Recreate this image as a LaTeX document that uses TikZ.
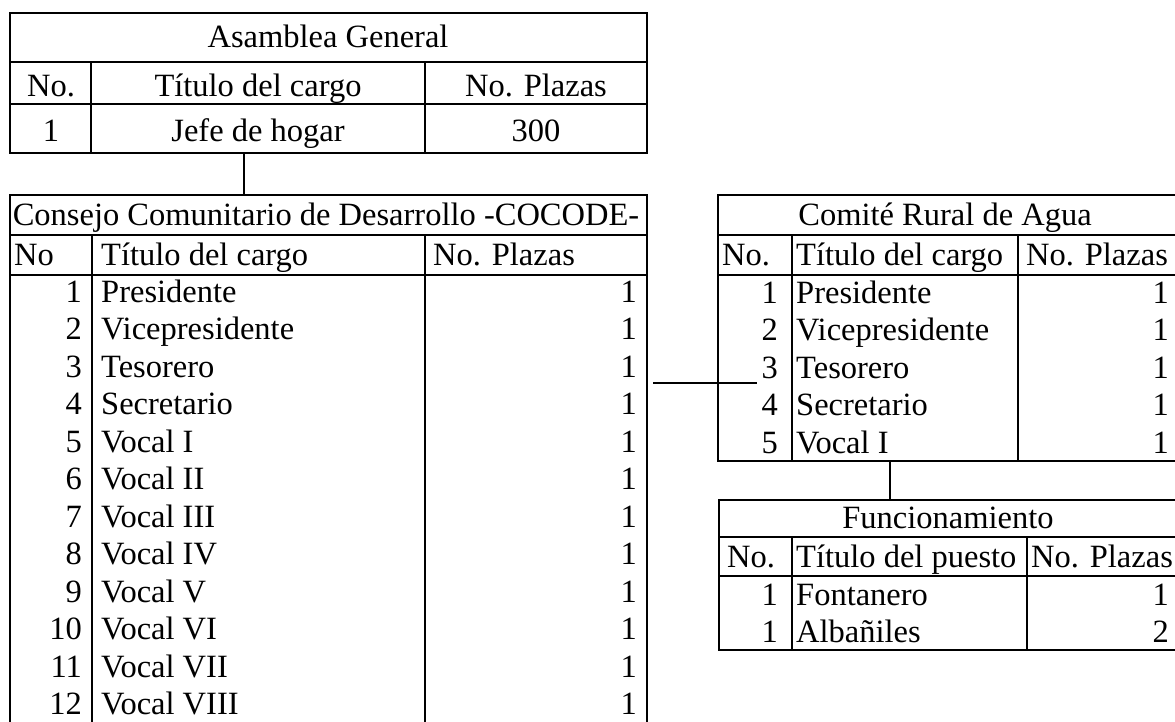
\documentclass[tikz,border=0pt]{standalone}
\usepackage{fontspec}
\setmainfont{Liberation Serif}

\begin{document}
\begin{tikzpicture}[x=1pt, y=-1pt,
  every node/.style={inner sep=0pt, font=\fontsize{32.5}{38}\selectfont},
  rule/.style={line width=1.6pt},
  conn/.style={line width=1.4pt},
  lft/.style={anchor=base west},
  rgt/.style={anchor=base east},
  mid/.style={anchor=base}]
  \useasboundingbox (0,0) rectangle (1175,721);

  % Asamblea General
  \draw[rule] (10,13) rectangle (647,153);
  \draw[rule] (10,62) -- (647,62);
  \draw[rule] (10,104) -- (647,104);
  \draw[rule] (91,62) -- (91,153);
  \draw[rule] (425,62) -- (425,153);
  \node[mid] (ag-title) at (328,47) {Asamblea General};
  \node[mid] (ag-no) at (51,96) {No.};
  \node[mid] (ag-cargo) at (258,96) {Título del cargo};
  \node[mid] (ag-plazas) at (536,96) {No. Plazas};
  \node[mid] (ag-n1) at (51,141) {1};
  \node[mid] (ag-c1) at (258,141) {Jefe de hogar};
  \node[mid] (ag-p1) at (536,141) {300};

  % Consejo Comunitario de Desarrollo
  \draw[rule] (10,740) -- (10,195) -- (647,195) -- (647,740);
  \draw[rule] (10,235) -- (647,235);
  \draw[rule] (10,275) -- (647,275);
  \draw[rule] (92,235) -- (92,740);
  \draw[rule] (425,235) -- (425,740);
  \node[mid] (cc-title) at (326,225) {Consejo Comunitario de Desarrollo -COCODE-};
  \node[lft] (cc-no) at (14,265) {No};
  \node[lft] (cc-cargo) at (101,265) {Título del cargo};
  \node[lft] (cc-plazas) at (433,265) {No. Plazas};
  \foreach \i/\cargo in {1/Presidente, 2/Vicepresidente, 3/Tesorero, 4/Secretario,
      5/Vocal I, 6/Vocal II, 7/Vocal III, 8/Vocal IV, 9/Vocal V, 10/Vocal VI,
      11/Vocal VII, 12/Vocal VIII} {
    \node[rgt] (cc-n\i) at (82,{302+37.5*(\i-1)}) {\i};
    \node[lft] (cc-c\i) at (101,{302+37.5*(\i-1)}) {\cargo};
    \node[rgt] (cc-p\i) at (637,{302+37.5*(\i-1)}) {1};
  }

  % Comité Rural de Agua
  \draw[rule] (718,195) rectangle (1177,461);
  \draw[rule] (718,235) -- (1177,235);
  \draw[rule] (718,275) -- (1177,275);
  \draw[rule] (792,235) -- (792,461);
  \draw[rule] (1018,235) -- (1018,461);
  \node[mid] (cr-title) at (945,225) {Comité Rural de Agua};
  \node[lft] (cr-no) at (722,265) {No.};
  \node[lft] (cr-cargo) at (796,265) {Título del cargo};
  \node[lft] (cr-plazas) at (1026,265) {No. Plazas};
  \foreach \i/\cargo in {1/Presidente, 2/Vicepresidente, 3/Tesorero, 4/Secretario,
      5/Vocal I} {
    \node[rgt] (cr-n\i) at (778,{303+37.5*(\i-1)}) {\i};
    \node[lft] (cr-c\i) at (796,{303+37.5*(\i-1)}) {\cargo};
    \node[rgt] (cr-p\i) at (1169,{303+37.5*(\i-1)}) {1};
  }

  % Funcionamiento
  \draw[rule] (719,500) rectangle (1177,650);
  \draw[rule] (719,537) -- (1177,537);
  \draw[rule] (719,576) -- (1177,576);
  \draw[rule] (792,537) -- (792,650);
  \draw[rule] (1027,537) -- (1027,650);
  \node[mid] (fn-title) at (948,528) {Funcionamiento};
  \node[lft] (fn-no) at (727,567) {No.};
  \node[lft] (fn-puesto) at (796,567) {Título del puesto};
  \node[lft] (fn-plazas) at (1031,567) {No. Plazas};
  \node[rgt] (fn-n1) at (778,605) {1};
  \node[lft] (fn-c1) at (796,605) {Fontanero};
  \node[rgt] (fn-p1) at (1169,605) {1};
  \node[rgt] (fn-n2) at (778,642) {1};
  \node[lft] (fn-c2) at (796,642) {Albañiles};
  \node[rgt] (fn-p2) at (1169,642) {2};

  % conectores
  \coordinate (ag-foot) at (244,153);
  \coordinate (cc-top) at (244,195);
  \coordinate (cc-out) at (653,383);
  \coordinate (cr-in) at (757,383);
  \coordinate (cr-foot) at (890,461);
  \coordinate (fn-top) at (890,500);
  \draw[conn] (ag-foot) -- (cc-top);
  \draw[conn] (cc-out) -- (cr-in);
  \draw[conn] (cr-foot) -- (fn-top);
\end{tikzpicture}
\end{document}
